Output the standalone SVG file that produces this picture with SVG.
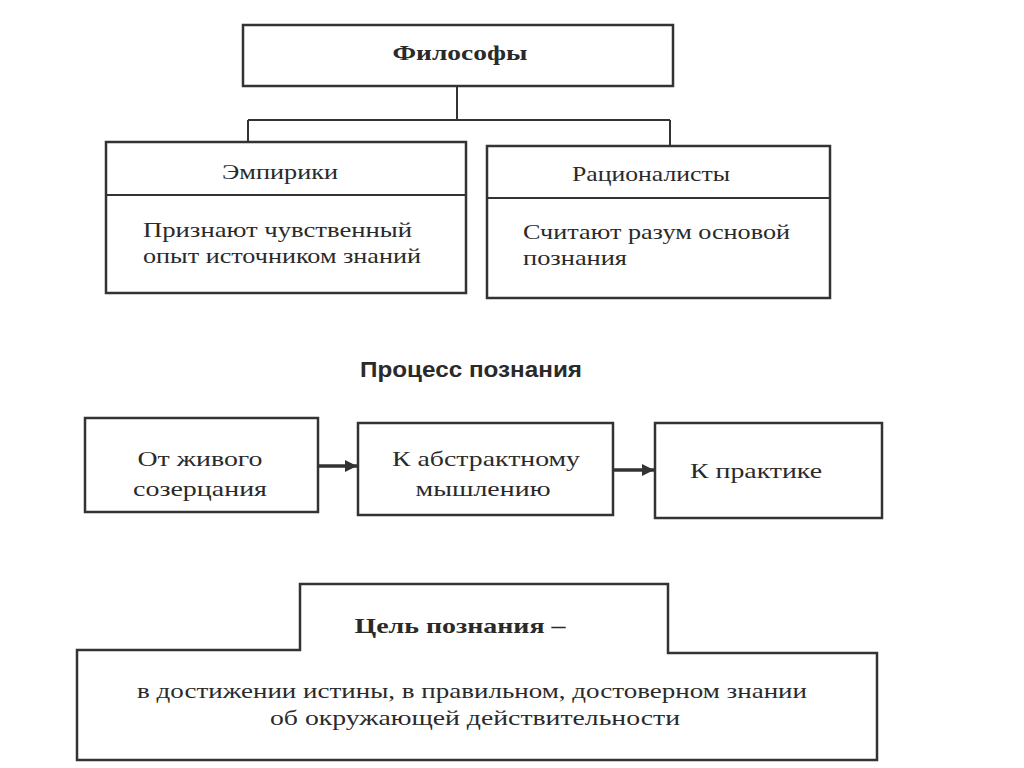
<svg xmlns="http://www.w3.org/2000/svg" width="1024" height="768" viewBox="0 0 1024 768">
<style>
.box{fill:none;stroke:#333;stroke-width:2.5}
.ln{fill:none;stroke:#333;stroke-width:2}
.ar{fill:none;stroke:#333;stroke-width:3.5}
.t{font-family:"Liberation Serif","Times New Roman","DejaVu Serif",serif;font-size:22px;fill:#2a2a2a}
.b{font-weight:bold}
.c{text-anchor:middle}
.h{font-family:"Liberation Sans Narrow","Liberation Sans","DejaVu Sans",sans-serif;font-size:22px;font-weight:bold;fill:#2a2a2a;text-anchor:middle}
</style>
<defs>
<marker id="arr" viewBox="0 0 10 10" refX="10" refY="5" markerWidth="3.5" markerHeight="3.5" orient="auto" markerUnits="strokeWidth">
<path d="M0,0 L10,5 L0,10 Z" fill="#333"/>
</marker>
</defs>
<rect width="1024" height="768" fill="#fff"/>
<g id="connectors">
<path class="ln" d="M457,86 V120 M248,120 H670 M248,120 V142 M670,120 V146"/>
<line class="ar" x1="318" y1="466" x2="357" y2="466" marker-end="url(#arr)"/>
<line class="ar" x1="613" y1="470" x2="654" y2="470" marker-end="url(#arr)"/>
</g>
<g id="philosophers">
<rect class="box" x="243" y="25" width="430" height="61"/>
<text class="t b c" x="460" y="60" textLength="135" lengthAdjust="spacingAndGlyphs">Философы</text>
</g>
<g id="empiricists">
<rect class="box" x="106" y="142" width="360" height="151"/>
<line class="ln" x1="106" y1="195" x2="466" y2="195"/>
<text class="t c" x="280" y="179" textLength="116" lengthAdjust="spacingAndGlyphs">Эмпирики</text>
<text class="t" x="143" y="237" textLength="269" lengthAdjust="spacingAndGlyphs">Признают чувственный</text>
<text class="t" x="143" y="263" textLength="278" lengthAdjust="spacingAndGlyphs">опыт источником знаний</text>
</g>
<g id="rationalists">
<rect class="box" x="487" y="146" width="343" height="152"/>
<line class="ln" x1="487" y1="198" x2="830" y2="198"/>
<text class="t c" x="651" y="181" textLength="158" lengthAdjust="spacingAndGlyphs">Рационалисты</text>
<text class="t" x="523" y="239" textLength="267" lengthAdjust="spacingAndGlyphs">Считают разум основой</text>
<text class="t" x="523" y="265" textLength="104" lengthAdjust="spacingAndGlyphs">познания</text>
</g>
<text class="h" x="471" y="377" textLength="222" lengthAdjust="spacingAndGlyphs">Процесс познания</text>
<g id="step1">
<rect class="box" x="85" y="418" width="233" height="94"/>
<text class="t c" x="200" y="466" textLength="125" lengthAdjust="spacingAndGlyphs">От живого</text>
<text class="t c" x="200" y="496" textLength="134" lengthAdjust="spacingAndGlyphs">созерцания</text>
</g>
<g id="step2">
<rect class="box" x="358" y="423" width="255" height="92"/>
<text class="t c" x="486" y="466" textLength="188" lengthAdjust="spacingAndGlyphs">К абстрактному</text>
<text class="t c" x="483" y="496" textLength="135" lengthAdjust="spacingAndGlyphs">мышлению</text>
</g>
<g id="step3">
<rect class="box" x="655" y="423" width="227" height="95"/>
<text class="t c" x="756" y="478" textLength="132" lengthAdjust="spacingAndGlyphs">К практике</text>
</g>
<g id="goal">
<path class="box" d="M77,650 H300 V584 H668 V653 H877 V760 H77 Z"/>
<text class="t b c" x="460" y="633" textLength="211" lengthAdjust="spacingAndGlyphs">Цель познания –</text>
<text class="t c" x="472" y="698" textLength="670" lengthAdjust="spacingAndGlyphs">в достижении истины, в правильном, достоверном знании</text>
<text class="t c" x="475" y="725" textLength="410" lengthAdjust="spacingAndGlyphs">об окружающей действительности</text>
</g>
</svg>
